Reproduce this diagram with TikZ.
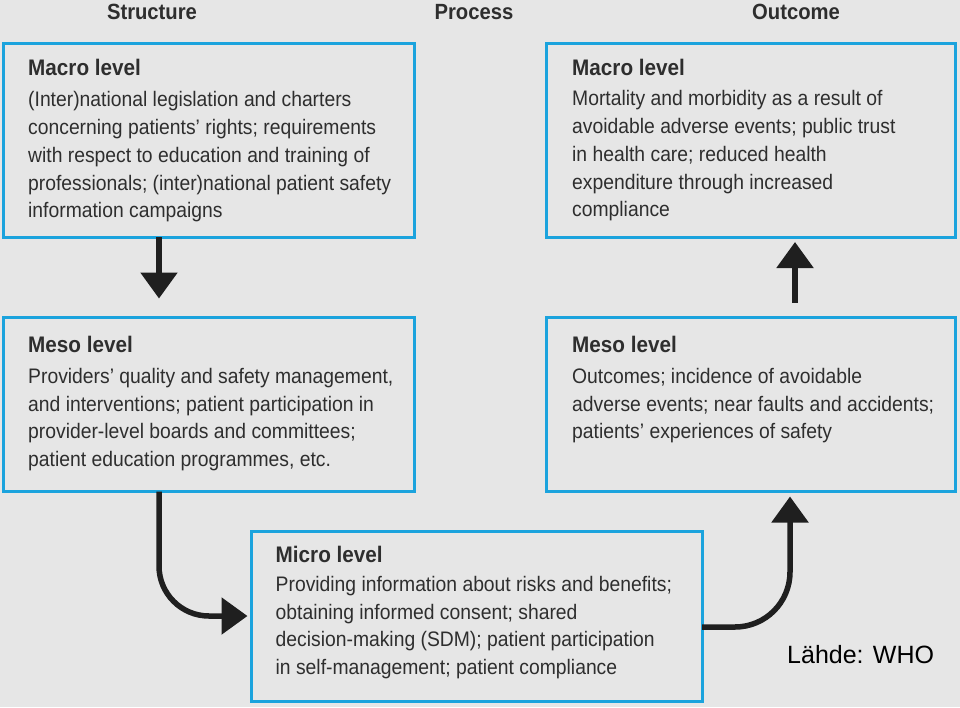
\documentclass[tikz,border=0pt]{standalone}
\usepackage{fontspec}
\setmainfont{Liberation Sans}
\newfontfamily\boxfont[FakeStretch=0.92]{Liberation Sans}
\usetikzlibrary{arrows.meta,calc}

\definecolor{bggray}{HTML}{E6E6E6}
\definecolor{frameblue}{HTML}{1BA3DD}
\definecolor{inkgray}{HTML}{2E2E2E}

\newcommand{\leveltitle}[1]{{\fontsize{22.5}{27.75}\selectfont\bfseries #1}}

\tikzset{
  levelbox/.style={draw=frameblue, line width=3pt, rectangle, anchor=north west,
    inner sep=0pt, outer sep=0pt},
  leveltext/.style={anchor=north west, inner sep=0pt, align=left, text=inkgray,
    font=\boxfont\fontsize{21}{27.75}\selectfont},
  colhead/.style={anchor=base, text=inkgray, font=\boxfont\bfseries\fontsize{22}{26}\selectfont},
  flow/.style={line width=5.5pt, draw=black!88, -{Triangle[width=36pt,length=26pt]}}
}

\begin{document}
\begin{tikzpicture}[x=1pt,y=-1pt]
        % === CANVAS ===
        \fill[bggray] (0,0) rectangle (960,707);
        \useasboundingbox (0,0) rectangle (960,707);

        % === COLUMN HEADS ===
        \node[colhead] (hstruct) at (152,19) {Structure};
        \node[colhead] (hproc) at (474,19) {Process};
        \node[colhead] (hout) at (796,19) {Outcome};

        % === STRUCTURE ===
        \node[levelbox, minimum width=410.5pt, minimum height=193.5pt] (structmacro) at (3.5,43.5) {};
        \node[leveltext] (structmacrotxt) at ([shift={(24.5pt,-15pt)}]structmacro.north west)
            {\leveltitle{Macro level}\\[4pt]
             (Inter)national legislation and charters\\
             concerning patients’ rights; requirements\\
             with respect to education and training of\\
             professionals; (inter)national patient safety\\
             information campaigns};

        \node[levelbox, minimum width=410.5pt, minimum height=174pt] (structmeso) at (3.5,317.5) {};
        \node[leveltext] (structmesotxt) at ([shift={(24.5pt,-18.5pt)}]structmeso.north west)
            {\leveltitle{Meso level}\\[3pt]
             Providers’ quality and safety management,\\
             and interventions; patient participation in\\
             provider-level boards and committees;\\
             patient education programmes, etc.};

        % === PROCESS ===
        \node[levelbox, minimum width=450.5pt, minimum height=170pt] (micro) at (251.5,531) {};
        \node[leveltext] (microtxt) at ([shift={(24pt,-15pt)}]micro.north west)
            {\leveltitle{Micro level}\\[1pt]
             Providing information about risks and benefits;\\
             obtaining informed consent; shared\\
             decision-making (SDM); patient participation\\
             in self-management; patient compliance};

        % === OUTCOME ===
        \node[levelbox, minimum width=409.5pt, minimum height=193.5pt] (outmacro) at (546,43.5) {};
        \node[leveltext] (outmacrotxt) at ([shift={(26pt,-15pt)}]outmacro.north west)
            {\leveltitle{Macro level}\\[3pt]
             Mortality and morbidity as a result of\\
             avoidable adverse events; public trust\\
             in health care; reduced health\\
             expenditure through increased\\
             compliance};

        \node[levelbox, minimum width=409.5pt, minimum height=174pt] (outmeso) at (546,317.5) {};
        \node[leveltext] (outmesotxt) at ([shift={(26pt,-18.5pt)}]outmeso.north west)
            {\leveltitle{Meso level}\\[3pt]
             Outcomes; incidence of avoidable\\
             adverse events; near faults and accidents;\\
             patients’ experiences of safety};

        % === ARROWS ===
        \coordinate (leftx) at (159,0);
        \coordinate (upx) at (795,0);
        \coordinate (rightx) at (790,0);
        \coordinate (microout) at ([yshift=-11pt]micro.east);

        \draw[flow, shorten >=19pt] (structmacro.south -| leftx) -- (structmeso.north -| leftx);
        \draw[flow, shorten <=15pt, shorten >=5pt] (outmeso.north -| upx) -- (outmacro.south -| upx);
        \draw[flow, rounded corners=50pt, shorten >=4pt] (structmeso.south -| leftx) |- (micro.west);
        \draw[flow, rounded corners=55pt, shorten >=5pt] (microout) -| (outmeso.south -| rightx);

        % === SOURCE ===
        \node[anchor=base west, inner sep=0pt, font=\fontsize{25}{30}\selectfont] (source) at (787,663) {Lähde: WHO};

    \end{tikzpicture}
\end{document}
